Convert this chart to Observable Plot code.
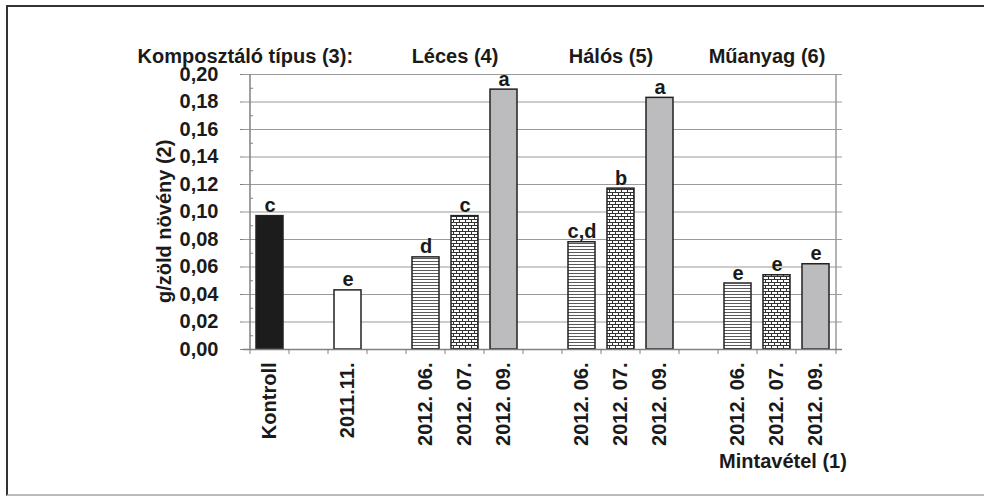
<!DOCTYPE html>
<html>
<head>
<meta charset="utf-8">
<script src="https://cdn.jsdelivr.net/npm/d3@7"></script>
<script src="https://cdn.jsdelivr.net/npm/@observablehq/plot@0.6"></script>
<style>
  html, body { margin: 0; padding: 0; background: #fff; }
  #wrap { position: relative; width: 984px; height: 496px; overflow: hidden; }
  #box {
    position: absolute; left: 6px; top: 5px; width: 990px; height: 487px;
    border-left: 2px solid #333; border-top: 2px solid #333; border-bottom: 2px solid #bbb;
    pointer-events: none;
  }
</style>
</head>
<body>
<div id="wrap"><div id="box"></div></div>
<script>
// Baseline samples (control and the starting material)
const baselineLabels = ["Kontroll", "2011.11."];
const baselineValues = [0.097, 0.043];
const baselineLetters = ["c", "e"];

// Composter types and their sampling dates
const composterTypes = ["Léces (4)", "Hálós (5)", "Műanyag (6)"];
const samplingDates = ["2012. 06.", "2012. 07.", "2012. 09."];
const lecesValues = [0.067, 0.097, 0.189];
const lecesLetters = ["d", "c", "a"];
const halosValues = [0.078, 0.117, 0.183];
const halosLetters = ["c,d", "b", "a"];
const muanyagValues = [0.048, 0.054, 0.062];
const muanyagLetters = ["e", "e", "e"];

// Y axis ticks
const yTickValues = [0, 0.02, 0.04, 0.06, 0.08, 0.10, 0.12, 0.14, 0.16, 0.18, 0.20];
const yMinorValues = [0.01, 0.03, 0.05, 0.07, 0.09, 0.11, 0.13, 0.15, 0.17, 0.19];

const headerLabel = "Komposztáló típus (3):";
const yTitle = "g/zöld növény (2)";
const xTitle = "Mintavétel (1)";

// Build the rows and the band domain (with empty slots between groups)
const rows = [];
const xKeys = [];
baselineLabels.forEach((lab, i) => {
  xKeys.push(lab);
  rows.push({key: lab, label: lab, value: baselineValues[i], letter: baselineLetters[i], kind: i === 0 ? "control" : "start"});
  xKeys.push("gap" + i);
});
const typeValues = [lecesValues, halosValues, muanyagValues];
const typeLetters = [lecesLetters, halosLetters, muanyagLetters];
const dateKinds = ["stripes", "bricks", "gray"];
composterTypes.forEach((t, ti) => {
  samplingDates.forEach((d, di) => {
    const key = t + "|" + d;
    xKeys.push(key);
    rows.push({key, label: d, value: typeValues[ti][di], letter: typeLetters[ti][di], kind: dateKinds[di]});
  });
  if (ti < composterTypes.length - 1) xKeys.push("gap" + (ti + 2));
});
const labelOf = new Map(rows.map(r => [r.key, r.label]));

const fills = {
  control: "#1c1c1c",
  start: "#ffffff",
  stripes: "url(#stripes)",
  bricks: "url(#bricks)",
  gray: "#bcbcbe"
};
const fmt = v => v.toFixed(2).replace(".", ",");
const lastKey = xKeys[xKeys.length - 1];

const chart = Plot.plot({
  width: 984,
  height: 496,
  marginTop: 74,
  marginRight: 142,
  marginBottom: 147,
  marginLeft: 243,
  x: {domain: xKeys, padding: 0, axis: null, label: null},
  y: {domain: [0, 0.2], axis: null, label: null},
  color: {type: "identity"},
  style: {fontFamily: "'Liberation Sans', Arial, sans-serif", fontSize: "20px", fontWeight: "bold", color: "#1a1a1a", background: "transparent"},
  marks: [
    // grid and plot border
    Plot.ruleY(yTickValues.filter(v => v > 0), {stroke: "#9a9a9a", strokeWidth: 1.2}),
    Plot.ruleX([lastKey], {dx: 20, stroke: "#9a9a9a", strokeWidth: 1.5}),
    // bars
    Plot.barY(rows, {x: "key", y: "value", fill: d => fills[d.kind], stroke: "#222", strokeWidth: 1.5, insetLeft: 6, insetRight: 6}),
    // axis lines
    Plot.ruleY([0], {stroke: "#808080", strokeWidth: 1.5}),
    Plot.ruleX([xKeys[0]], {dx: -20, stroke: "#808080", strokeWidth: 1.5}),
    // category boundary ticks
    Plot.ruleX(xKeys, {x: d => d, dx: -20, y1: 0, y2: -0.0036, stroke: "#808080"}),
    Plot.ruleX([lastKey], {dx: 20, y1: 0, y2: -0.0036, stroke: "#808080"}),
    // minor y ticks
    Plot.tickY(yMinorValues, {y: d => d, x: () => xKeys[0], insetRight: 36, stroke: "#808080"}),
    // axes
    Plot.axisY({ticks: yTickValues, tickSize: 3, tickPadding: 22, tickFormat: fmt, stroke: "#808080"}),
    Plot.axisX({tickRotate: -90, tickSize: 0, tickPadding: 13, tickFormat: k => labelOf.get(k) || ""}),
    // significance letters
    Plot.text(rows, {x: "key", y: "value", text: "letter", lineAnchor: "bottom", dy: -4}),
    // headers and titles
    Plot.text([headerLabel], {frameAnchor: "top-left", textAnchor: "start", dx: -106, dy: -26}),
    Plot.text(composterTypes, {x: t => t + "|" + samplingDates[1], text: t => t, frameAnchor: "top", dy: -26, dx: -10}),
    Plot.text([yTitle], {frameAnchor: "left", rotate: -90, dx: -79, dy: 91}),
    Plot.text([xTitle], {x: () => composterTypes[2] + "|" + samplingDates[1], frameAnchor: "bottom", dx: 6, dy: 118})
  ]
});

// Fill patterns for the June (stripes) and July (bricks) samples
d3.select(chart).insert("defs", ":first-child").html(`
  <pattern id="stripes" patternUnits="userSpaceOnUse" width="6" height="3">
    <rect width="6" height="3" fill="#fff"/>
    <rect y="0" width="6" height="1" fill="#5a5a5a"/>
  </pattern>
  <pattern id="bricks" patternUnits="userSpaceOnUse" width="6" height="6">
    <rect width="6" height="6" fill="#fff"/>
    <path d="M0 0.5H6M0 3.5H6M0.5 0V3.5M3.5 3.5V6" stroke="#333" stroke-width="1" fill="none"/>
  </pattern>
`);

document.getElementById("wrap").prepend(chart);
chart.style.position = "absolute";
chart.style.left = "0";
chart.style.top = "0";
</script>
</body>
</html>
